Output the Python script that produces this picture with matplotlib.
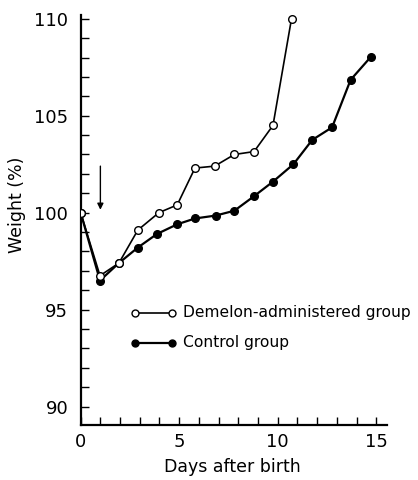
import matplotlib
matplotlib.use("Agg")
import matplotlib.pyplot as plt
from matplotlib.ticker import MultipleLocator

# Data
demelon_days = [0, 0.98, 1.94, 2.9, 3.97, 4.9, 5.8, 6.8, 7.8, 8.8, 9.76, 10.7]
demelon_weight = [100, 96.75, 97.4, 99.1, 100.0, 100.4, 102.3, 102.4, 103.0, 103.15, 104.5, 110.0]

control_days = [0, 0.98, 1.94, 2.9, 3.87, 4.9, 5.8, 6.85, 7.8, 8.8, 9.76, 10.8, 11.75, 12.76, 13.7, 14.74]
control_weight = [100, 96.5, 97.4, 98.2, 98.9, 99.4, 99.7, 99.85, 100.1, 100.85, 101.6, 102.5, 103.75, 104.4, 106.85, 108.05]

x_ticks = [0, 5, 10, 15]
y_ticks = [90, 95, 100, 105, 110]
legend_labels = ["Demelon-administered group", "Control group"]

plt.rcParams['font.family'] = ['DejaVu Sans']

fig = plt.figure(figsize=(4.18, 4.8), dpi=100)
ax = fig.add_axes([0.193, 0.1146, 0.733, 0.8544])

ax.set_xlim(0, 15.55)
ax.set_ylim(89.05, 110.2)

# control group (filled)
ax.plot(control_days, control_weight, color='black', lw=1.6, marker='o',
        markersize=5.5, markerfacecolor='black', markeredgecolor='black', zorder=3)
# demelon group (open)
ax.plot(demelon_days, demelon_weight, color='black', lw=1.2, marker='o',
        markersize=5.5, markerfacecolor='white', markeredgecolor='black',
        markeredgewidth=1.0, zorder=4)

# legend drawn in data coordinates
ax.plot([2.76, 4.64], [94.83, 94.83], color='black', lw=1.2, marker='o',
        markersize=5, markerfacecolor='white', markeredgecolor='black', markeredgewidth=1.0)
ax.plot([2.76, 4.64], [93.28, 93.28], color='black', lw=1.6, marker='o',
        markersize=5, markerfacecolor='black', markeredgecolor='black')
ax.text(5.2, 94.83, legend_labels[0], fontsize=11.2, va='center', ha='left')
ax.text(5.2, 93.28, legend_labels[1], fontsize=11.2, va='center', ha='left')

# arrow
ax.annotate('', xy=(1.0, 100.15), xytext=(1.0, 102.4),
            arrowprops=dict(arrowstyle='-|>', color='black', lw=1.0,
                            mutation_scale=9, shrinkA=0, shrinkB=0))

for s in ['top', 'right']:
    ax.spines[s].set_visible(False)
for s in ['left', 'bottom']:
    ax.spines[s].set_linewidth(1.6)

ax.set_xticks(x_ticks)
ax.set_yticks(y_ticks)
ax.xaxis.set_minor_locator(MultipleLocator(1))
ax.yaxis.set_minor_locator(MultipleLocator(1))
ax.tick_params(axis='both', which='both', direction='in', length=6, width=1.0,
               labelsize=13)
ax.tick_params(axis='y', which='major', pad=9)
ax.tick_params(axis='x', which='major', pad=6)

fig.text(17 / 418, 1 - 205 / 480, "Weight (%)", rotation=90, fontsize=12.5,
         ha='center', va='center')
fig.text(232 / 418, 1 - 467 / 480, "Days after birth", fontsize=12.5,
         ha='center', va='center')

fig.savefig("out.png", dpi=100)
